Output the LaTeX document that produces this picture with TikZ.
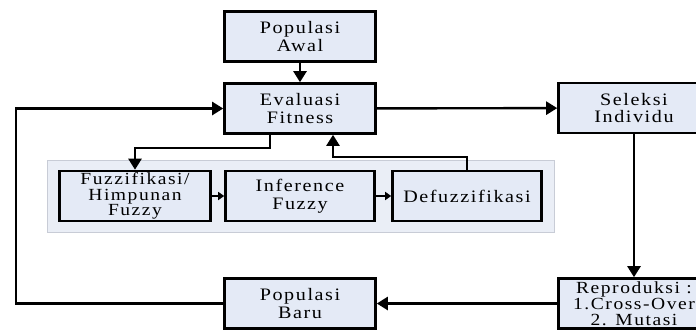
\documentclass[tikz,border=0pt]{standalone}
\usepackage{fontspec}
\newfontfamily\boxfont[LetterSpace=9,FakeStretch=1.15]{Liberation Serif}
\usetikzlibrary{arrows.meta}
\definecolor{boxfill}{HTML}{E4EAF6}
\definecolor{panelfill}{HTML}{EAEEF6}
\definecolor{panelline}{HTML}{C8CCD6}

\begin{document}
\begin{tikzpicture}[x=1pt,y=-1pt,
  box/.style={draw,fill=boxfill,line width=2.6pt,minimum width=151pt,minimum height=50pt,
    align=center,inner sep=0pt,font=\boxfont\fontsize{17.5}{17.5}\selectfont},
  tallbox/.style={box,font=\boxfont\fontsize{17}{15.8}\selectfont},
  link/.style={line width=2.4pt,-{Triangle[length=11pt,width=13pt]}},
  shortlink/.style={line width=2.4pt,-{Triangle[length=6pt,width=8pt]}}]
\useasboundingbox (0,0) rectangle (696,330);
\clip (0,0) rectangle (696,330);
\node[draw=panelline,fill=panelfill,line width=0.8pt,minimum width=507pt,minimum height=72pt,name=npanel] at (300.5,196) {};
\node[box,name=nawal] at (300,36.5) {Populasi\\Awal};
\node[box,name=neval] at (300,108.5) {Evaluasi\\Fitness};
\node[box,name=nsel] at (634,108) {Seleksi\\Individu};
\node[tallbox,name=nrep] at (634,303.5) {Reproduksi :\\1.Cross-Over\\2. Mutasi};
\node[box,name=nbaru] at (300,303.5) {Populasi\\Baru};
\node[tallbox,name=nfuz] at (135,196) {Fuzzifikasi/\\Himpunan\\Fuzzy};
\node[box,minimum width=149pt,name=ninf] at (300,196) {Inference\\Fuzzy};
\node[box,minimum width=149pt,name=ndef] at (467,196) {Defuzzifikasi};
\draw[link] (nawal) -- (neval);
\draw[link] (neval) -- (nsel);
\draw[link] (nsel) -- (nrep);
\draw[link] (nrep) -- (nbaru);
\draw[link] (nbaru.west) -- ++(-207,0) |- (neval.west);
\draw[link] ([xshift=-30pt]neval.south) -- ++(0,13) -| (nfuz.north);
\draw[link] (ndef.north) -- ++(0,-13) -| ([xshift=33pt]neval.south);
\draw[shortlink] (nfuz) -- (ninf);
\draw[shortlink] (ninf) -- (ndef);
\end{tikzpicture}
\end{document}
